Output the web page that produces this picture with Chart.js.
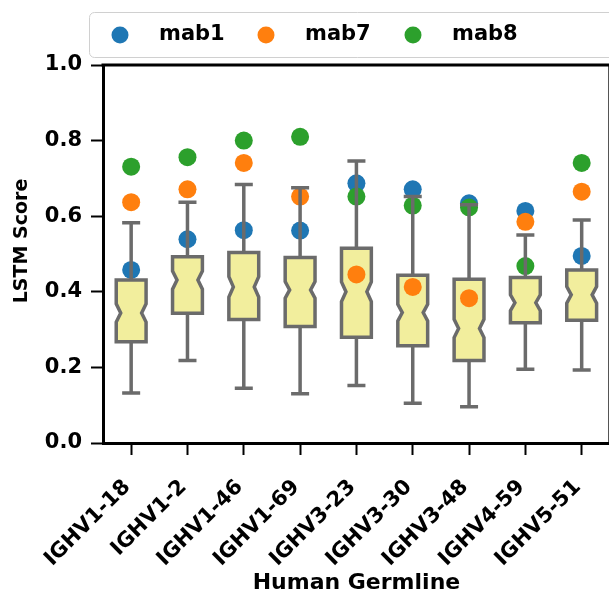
<!DOCTYPE html>
<html>
<head>
<meta charset="utf-8">
<script src="https://cdn.jsdelivr.net/npm/chart.js@4.4.0/dist/chart.umd.min.js"></script>
<style>
  html, body { margin: 0; padding: 0; background: #fff; overflow: hidden; }
  #wrap { width: 620px; height: 596px; }
</style>
</head>
<body>
<div id="wrap"><canvas id="myChart"></canvas></div>
<script>
// Data
const germlines = ['IGHV1-18', 'IGHV1-2', 'IGHV1-46', 'IGHV1-69', 'IGHV3-23', 'IGHV3-30', 'IGHV3-48', 'IGHV4-59', 'IGHV5-51'];
const whiskerLow = [0.132, 0.218, 0.145, 0.130, 0.152, 0.105, 0.096, 0.195, 0.193];
const q1 = [0.268, 0.343, 0.327, 0.308, 0.280, 0.257, 0.218, 0.318, 0.325];
const medians = [0.344, 0.431, 0.413, 0.405, 0.400, 0.345, 0.303, 0.371, 0.392];
const q3 = [0.431, 0.493, 0.504, 0.491, 0.515, 0.444, 0.433, 0.438, 0.458];
const whiskerHigh = [0.583, 0.637, 0.684, 0.675, 0.746, 0.652, 0.630, 0.550, 0.590];
const notchHalf = [0.024, 0.024, 0.027, 0.022, 0.026, 0.022, 0.024, 0.021, 0.022];
const mab1 = [0.458, 0.539, 0.563, 0.562, 0.687, 0.671, 0.634, 0.614, 0.495];
const mab7 = [0.637, 0.671, 0.741, 0.652, 0.446, 0.413, 0.383, 0.585, 0.665];
const mab8 = [0.731, 0.756, 0.800, 0.810, 0.652, 0.628, 0.623, 0.468, 0.741];
const yTicks = [0, 0.2, 0.4, 0.6, 0.8, 1.0];

const fontFamily = "'DejaVu Sans', sans-serif";
const boxFill = '#f2ee9d';
const boxLine = '#6b6b6b';

// draw notched boxes: fill under the points, lines over them
function drawBoxes(chart, mode) {
    const ctx = chart.ctx;
    const x = chart.scales.x;
    const y = chart.scales.y;
    const step = x.getPixelForValue(1) - x.getPixelForValue(0);
    const hw = step * 0.265;
    const cap = step * 0.16;
    const ind = hw * 0.3;
    ctx.save();
    ctx.lineWidth = 3.5;
    ctx.strokeStyle = boxLine;
    ctx.fillStyle = boxFill;
    ctx.lineJoin = 'miter';
    germlines.forEach((g, i) => {
        const cx = x.getPixelForValue(i);
        const yq1 = y.getPixelForValue(q1[i]);
        const yq3 = y.getPixelForValue(q3[i]);
        const ym = y.getPixelForValue(medians[i]);
        const yNlo = y.getPixelForValue(medians[i] - notchHalf[i]);
        const yNhi = y.getPixelForValue(medians[i] + notchHalf[i]);
        ctx.beginPath();
        ctx.moveTo(cx - hw, yq1);
        ctx.lineTo(cx - hw, yNlo);
        ctx.lineTo(cx - hw + ind, ym);
        ctx.lineTo(cx - hw, yNhi);
        ctx.lineTo(cx - hw, yq3);
        ctx.lineTo(cx + hw, yq3);
        ctx.lineTo(cx + hw, yNhi);
        ctx.lineTo(cx + hw - ind, ym);
        ctx.lineTo(cx + hw, yNlo);
        ctx.lineTo(cx + hw, yq1);
        ctx.closePath();
        if (mode === 'fill') {
            ctx.fill();
        } else {
            ctx.stroke();
            const yLo = y.getPixelForValue(whiskerLow[i]);
            const yHi = y.getPixelForValue(whiskerHigh[i]);
            ctx.beginPath();
            ctx.moveTo(cx, yq1); ctx.lineTo(cx, yLo);
            ctx.moveTo(cx, yq3); ctx.lineTo(cx, yHi);
            ctx.moveTo(cx - cap, yLo); ctx.lineTo(cx + cap, yLo);
            ctx.moveTo(cx - cap, yHi); ctx.lineTo(cx + cap, yHi);
            ctx.stroke();
        }
    });
    ctx.restore();
}

const boxPlugin = {
    id: 'notchedBoxes',
    beforeDatasetsDraw(chart) { drawBoxes(chart, 'fill'); },
    afterDatasetsDraw(chart) { drawBoxes(chart, 'stroke'); }
};

// top spine, y title, legend box
const framePlugin = {
    id: 'frameAndLegend',
    afterDraw(chart) {
        const ctx = chart.ctx;
        const a = chart.chartArea;
        ctx.save();
        ctx.strokeStyle = '#000';
        ctx.lineWidth = 3;
        ctx.beginPath();
        ctx.moveTo(a.left - 1.5, a.top);
        ctx.lineTo(a.right, a.top);
        ctx.lineTo(a.right, a.bottom);
        ctx.stroke();

        // y axis title
        ctx.save();
        ctx.translate(22, 241);
        ctx.rotate(-Math.PI / 2);
        ctx.fillStyle = '#000';
        ctx.font = 'bold 19px ' + fontFamily;
        ctx.textAlign = 'center';
        ctx.textBaseline = 'middle';
        ctx.fillText('LSTM Score', 0, 0);
        ctx.restore();

        // legend
        ctx.fillStyle = 'rgba(255,255,255,0.9)';
        ctx.strokeStyle = '#d0d0d0';
        ctx.lineWidth = 1;
        ctx.beginPath();
        ctx.roundRect(89.5, 12.5, 560, 45, 5);
        ctx.fill();
        ctx.stroke();
        const dotX = [120, 266, 413];
        ctx.font = 'bold 21px ' + fontFamily;
        ctx.textBaseline = 'middle';
        ctx.textAlign = 'left';
        chart.data.datasets.forEach((ds, i) => {
            ctx.fillStyle = ds.backgroundColor;
            ctx.beginPath();
            ctx.arc(dotX[i], 35, 8.5, 0, Math.PI * 2);
            ctx.fill();
            ctx.fillStyle = '#000';
            ctx.fillText(ds.label, dotX[i] + 39, 35);
        });
        ctx.restore();
    }
};

function pointSet(label, values, color, order) {
    return {
        label: label,
        data: values,
        order: order,
        showLine: false,
        backgroundColor: color,
        borderColor: color,
        borderWidth: 0,
        pointRadius: 9,
        pointHoverRadius: 9
    };
}

new Chart(document.getElementById('myChart'), {
    type: 'line',
    data: {
        labels: germlines,
        datasets: [
            pointSet('mab1', mab1, '#1f77b4', 2),
            pointSet('mab7', mab7, '#ff7f0e', 1),
            pointSet('mab8', mab8, '#2ca02c', 0)
        ]
    },
    options: {
        responsive: true,
        maintainAspectRatio: false,
        animation: false,
        layout: { padding: { top: 65, right: 8, left: 0, bottom: 0 } },
        plugins: {
            legend: { display: false },
            tooltip: { enabled: false }
        },
        scales: {
            x: {
                offset: true,
                grid: { display: true, drawOnChartArea: false, tickLength: 12, tickWidth: 2, tickColor: '#000' },
                border: { color: '#000', width: 3 },
                ticks: {
                    color: '#000',
                    font: { family: fontFamily, size: 21, weight: 'bold' },
                    minRotation: 45, maxRotation: 45,
                    padding: 20, labelOffset: -4
                },
                title: {
                    display: true,
                    text: 'Human Germline',
                    color: '#000',
                    font: { family: fontFamily, size: 22, weight: 'bold' },
                    padding: { top: 0, bottom: 0 }
                },
                afterFit(s) { s.height = 153; }
            },
            y: {
                min: 0,
                max: 1,
                afterBuildTicks(s) { s.ticks = yTicks.map(v => ({ value: v })); },
                grid: { display: true, drawOnChartArea: false, tickLength: 12, tickWidth: 2, tickColor: '#000' },
                border: { color: '#000', width: 3 },
                ticks: {
                    color: '#000',
                    font: { family: fontFamily, size: 21, weight: 'bold' },
                    padding: 9,
                    callback: v => v.toFixed(1)
                },
                afterFit(s) { s.width = 103; }
            }
        }
    },
    plugins: [boxPlugin, framePlugin]
});
</script>
</body>
</html>
